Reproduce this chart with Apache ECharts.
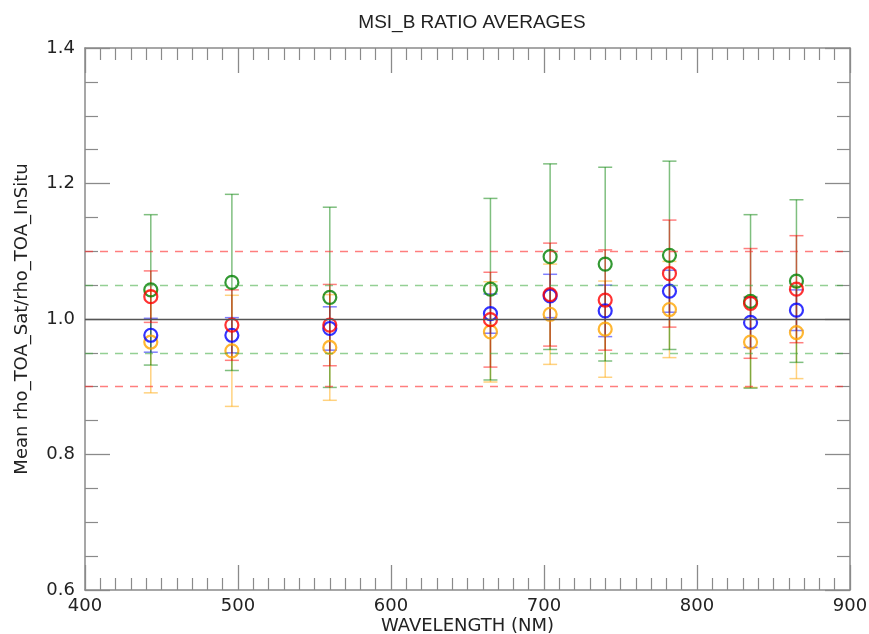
<!DOCTYPE html>
<html>
<head>
<meta charset="utf-8">
<script src="https://cdn.jsdelivr.net/npm/echarts@6/dist/echarts.min.js"></script>
<style>
  html, body { margin: 0; padding: 0; background: #fff; }
  #chart { width: 869px; height: 634px; }
</style>
</head>
<body>
<div id="chart"></div>
<script>
// Band centre wavelengths (nm)
const wavelengths = [443, 496, 560, 665, 704, 740, 782, 835, 865];

// Mean TOA ratio per band and its standard deviation, one pair per match-up set
const greenMean = [1.043, 1.054, 1.032, 1.044, 1.092, 1.081, 1.094, 1.026, 1.056];
const greenStd  = [0.111, 0.130, 0.133, 0.134, 0.137, 0.143, 0.139, 0.128, 0.120];

const redMean = [1.033, 0.991, 0.991, 0.999, 1.036, 1.028, 1.067, 1.023, 1.044];
const redStd  = [0.038, 0.052, 0.060, 0.070, 0.076, 0.074, 0.079, 0.081, 0.079];

const blueMean = [0.976, 0.976, 0.986, 1.008, 1.034, 1.012, 1.041, 0.995, 1.013];
const blueStd  = [0.025, 0.026, 0.032, 0.029, 0.032, 0.038, 0.031, 0.037, 0.030];

const orangeMean = [0.966, 0.953, 0.958, 0.981, 1.007, 0.985, 1.014, 0.966, 0.980];
const orangeStd  = [0.075, 0.082, 0.078, 0.074, 0.074, 0.071, 0.071, 0.067, 0.068];

// Reference levels: unity, ±5 % and ±10 %
const unityLevel = [1.0];
const band5 = [0.95, 1.05];
const band10 = [0.9, 1.1];

const xTicks = [400, 500, 600, 700, 800, 900];
const yTicks = [0.6, 0.8, 1.0, 1.2, 1.4];

const FONT = 'DejaVu Sans';
const AXIS_GRAY = '#8a8a8a';

function errorSeries(color, means, stds) {
  const data = wavelengths.map((w, i) => [w, means[i] - stds[i], means[i] + stds[i]]);
  return {
    type: 'custom',
    data: data,
    encode: { x: 0, y: [1, 2] },
    silent: true,
    z: 3,
    renderItem: function (params, api) {
      const x = api.value(0);
      const lo = api.coord([x, api.value(1)]);
      const hi = api.coord([x, api.value(2)]);
      const hw = 7;
      const style = { stroke: color, lineWidth: 1.5, opacity: 0.5 };
      return {
        type: 'group',
        children: [
          { type: 'line', shape: { x1: lo[0], y1: lo[1], x2: hi[0], y2: hi[1] }, style: style },
          { type: 'line', shape: { x1: lo[0] - hw, y1: lo[1], x2: lo[0] + hw, y2: lo[1] }, style: style },
          { type: 'line', shape: { x1: hi[0] - hw, y1: hi[1], x2: hi[0] + hw, y2: hi[1] }, style: style }
        ]
      };
    }
  };
}

function pointSeries(color, means) {
  return {
    type: 'scatter',
    data: wavelengths.map((w, i) => [w, means[i]]),
    symbol: 'circle',
    symbolSize: 13,
    silent: true,
    z: 4,
    itemStyle: { color: 'rgba(0,0,0,0)', borderColor: color, borderWidth: 2.2 }
  };
}

const dashed = (color) => ({ color: color, width: 1.3, type: [8, 7] });

const refLines = [];
unityLevel.forEach(v => refLines.push({ yAxis: v, lineStyle: { color: '#555', width: 1.4, type: 'solid' } }));
band5.forEach(v => refLines.push({ yAxis: v, lineStyle: dashed('rgba(60,170,60,0.55)') }));
band10.forEach(v => refLines.push({ yAxis: v, lineStyle: dashed('rgba(255,40,40,0.6)') }));

const tickStyle = { inside: true, length: 25, lineStyle: { color: AXIS_GRAY, width: 1.3 } };

const option = {
  animation: false,
  backgroundColor: '#fff',
  title: {
    text: 'MSI_B RATIO AVERAGES',
    left: 467,
    top: 8,
    textAlign: 'center',
    textStyle: { fontFamily: 'Liberation Sans', fontSize: 19, fontWeight: 'normal', color: '#222' }
  },
  grid: { left: 85, right: 19, top: 48, bottom: 44, containLabel: false, outerBoundsMode: 'none' },
  xAxis: [
    {
      type: 'value', min: 400, max: 900, interval: 100, position: 'bottom',
      name: 'WAVELENGTH (NM)', nameLocation: 'middle', nameGap: 27, nameMoveOverlap: false,
      nameTextStyle: { fontFamily: FONT, fontSize: 18, color: '#222' },
      axisLine: { lineStyle: { color: AXIS_GRAY, width: 1.5 } },
      axisTick: tickStyle,
      minorTick: { show: true, splitNumber: 10, length: 12, lineStyle: { color: AXIS_GRAY, width: 1.2 } },
      axisLabel: {
        margin: 7, fontFamily: FONT, fontSize: 18, color: '#222',
        formatter: v => (xTicks.includes(v) ? String(v) : '')
      },
      splitLine: { show: false }
    },
    {
      type: 'value', min: 400, max: 900, interval: 100, position: 'top',
      axisLine: { lineStyle: { color: AXIS_GRAY, width: 1.5 } },
      axisTick: tickStyle,
      minorTick: { show: true, splitNumber: 10, length: 12, lineStyle: { color: AXIS_GRAY, width: 1.2 } },
      axisLabel: { show: false },
      splitLine: { show: false }
    }
  ],
  yAxis: [
    {
      type: 'value', min: 0.6, max: 1.4, interval: 0.2, position: 'left',
      name: 'Mean rho_TOA_Sat/rho_TOA_InSitu', nameLocation: 'middle', nameGap: 54, nameMoveOverlap: false,
      nameTextStyle: { fontFamily: FONT, fontSize: 18, color: '#222' },
      axisLine: { lineStyle: { color: AXIS_GRAY, width: 1.5 } },
      axisTick: tickStyle,
      minorTick: { show: true, splitNumber: 4, length: 13, lineStyle: { color: AXIS_GRAY, width: 1.2 } },
      axisLabel: {
        margin: 10, fontFamily: FONT, fontSize: 18, color: '#222',
        formatter: v => {
          const hit = yTicks.find(t => Math.abs(t - v) < 1e-9);
          return hit === undefined ? '' : hit.toFixed(1);
        }
      },
      splitLine: { show: false }
    },
    {
      type: 'value', min: 0.6, max: 1.4, interval: 0.2, position: 'right',
      axisLine: { lineStyle: { color: AXIS_GRAY, width: 1.5 } },
      axisTick: tickStyle,
      minorTick: { show: true, splitNumber: 4, length: 13, lineStyle: { color: AXIS_GRAY, width: 1.2 } },
      axisLabel: { show: false },
      splitLine: { show: false }
    }
  ],
  series: [
    {
      type: 'line',
      data: [],
      silent: true,
      z: 1,
      markLine: { silent: true, symbol: 'none', label: { show: false }, data: refLines }
    },
    errorSeries('#ffa500', orangeMean, orangeStd),
    errorSeries('#0000ff', blueMean, blueStd),
    errorSeries('#008000', greenMean, greenStd),
    errorSeries('#ff0000', redMean, redStd),
    pointSeries('#ffa500', orangeMean),
    pointSeries('#0000ff', blueMean),
    pointSeries('#008000', greenMean),
    pointSeries('#ff0000', redMean)
  ]
};

const chart = echarts.init(document.getElementById('chart'), null, { renderer: 'canvas' });
chart.setOption(option);
</script>
</body>
</html>
